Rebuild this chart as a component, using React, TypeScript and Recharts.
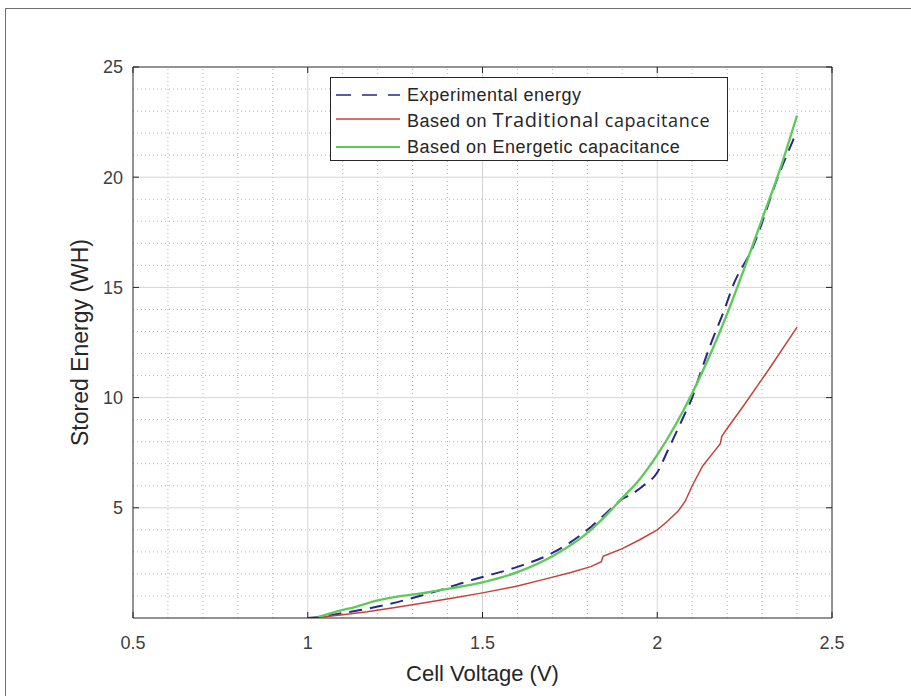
import { LineChart, Line, XAxis, YAxis, ReferenceLine, Legend } from "recharts";

// cell voltage (V) vs stored energy (WH)
const expVoltage = [1.0, 1.03, 1.07, 1.15, 1.23, 1.31, 1.38, 1.44, 1.5, 1.6, 1.7, 1.8, 1.85, 1.9, 1.93, 1.96, 2.0, 2.03, 2.08, 2.1, 2.12, 2.15, 2.19, 2.22, 2.27, 2.35, 2.4];
const expEnergy = [0, 0.03, 0.14, 0.36, 0.62, 0.95, 1.27, 1.58, 1.86, 2.32, 2.95, 4.0, 4.7, 5.4, 5.65, 6.0, 6.6, 7.6, 9.3, 10.0, 10.95, 12.3, 13.9, 15.2, 16.7, 20.2, 22.1];

const tradVoltage = [1.04, 1.1, 1.17, 1.25, 1.33, 1.42, 1.5, 1.6, 1.67, 1.75, 1.81, 1.84, 1.845, 1.9, 1.95, 2.0, 2.03, 2.06, 2.08, 2.1, 2.13, 2.15, 2.18, 2.185, 2.2, 2.25, 2.32, 2.4];
const tradEnergy = [0.05, 0.15, 0.28, 0.48, 0.68, 0.92, 1.14, 1.45, 1.73, 2.05, 2.33, 2.55, 2.8, 3.15, 3.55, 4.0, 4.4, 4.85, 5.3, 6.0, 6.9, 7.3, 7.9, 8.25, 8.6, 9.7, 11.3, 13.2];

const enerVoltage = [1.03, 1.08, 1.14, 1.2, 1.26, 1.3, 1.35, 1.4, 1.5, 1.6, 1.7, 1.8, 1.85, 1.9, 1.95, 2.0, 2.05, 2.1, 2.15, 2.2, 2.25, 2.3, 2.35, 2.4];
const enerEnergy = [0.05, 0.28, 0.52, 0.8, 0.98, 1.06, 1.18, 1.32, 1.62, 2.08, 2.8, 3.86, 4.6, 5.45, 6.3, 7.4, 8.7, 10.2, 11.9, 13.8, 15.9, 18.1, 20.3, 22.8];

const seriesNames = [
  "Experimental energy",
  "Based on Traditional capacitance",
  "Based on Energetic capacitance",
];
const seriesColors = ["#26268c", "#c8403a", "#5fc95a"];

const xTicks = [0.5, 1, 1.5, 2, 2.5];
const yTicks = [5, 10, 15, 20, 25];
const xMajorGrid = [1, 1.5, 2];
const yMajorGrid = [5, 10, 15, 20];
const xMinorGrid = [0.6, 0.7, 0.8, 0.9, 1.1, 1.2, 1.3, 1.4, 1.6, 1.7, 1.8, 1.9, 2.1, 2.2, 2.3, 2.4];
const yMinorGrid = [1, 2, 3, 4, 6, 7, 8, 9, 11, 12, 13, 14, 16, 17, 18, 19, 21, 22, 23, 24];

const SANS = "'Liberation Sans', Arial, sans-serif";
const AXIS = "#262626";

const toPoints = (v: number[], e: number[]) => v.map((x, i) => ({ v: x, e: e[i] }));

const expData = toPoints(expVoltage, expEnergy);
const tradData = toPoints(tradVoltage, tradEnergy);
const enerData = toPoints(enerVoltage, enerEnergy);

const tickStyle = { fill: "#404040", fontSize: 18, fontFamily: SANS };
const noTick = () => <g />;

const rowTops = [5, 29, 57];

function legendLabel(name: string) {
  if (name.includes("Traditional")) {
    return (
      <>
        Based on{" "}
        <span style={{ fontFamily: "'Open Sans', sans-serif", fontSize: 20, letterSpacing: 0.6 }}>
          Traditional
        </span>
        <span style={{ fontFamily: "'Open Sans', sans-serif", fontSize: 18, letterSpacing: 0.6 }}>
          {" "}capacitance
        </span>
      </>
    );
  }
  return name;
}

function renderLegend() {
  return (
    <div
      style={{
        position: "relative",
        width: 396,
        height: 82,
        border: `1px solid ${AXIS}`,
        background: "#fff",
        fontFamily: SANS,
        fontSize: 18,
        letterSpacing: 0.5,
        color: AXIS,
      }}
    >
      {seriesNames.map((name, i) => (
        <div
          key={name}
          style={{
            position: "absolute",
            left: 4,
            top: rowTops[i],
            height: 24,
            display: "flex",
            alignItems: "center",
            whiteSpace: "nowrap",
          }}
        >
          <svg width={66} height={24}>
            <line
              x1={1}
              y1={12}
              x2={65}
              y2={12}
              stroke={seriesColors[i]}
              strokeWidth={i === 2 ? 2 : 1.6}
              strokeDasharray={i === 0 ? "15 11" : undefined}
            />
          </svg>
          <span style={{ marginLeft: 6 }}>{legendLabel(name)}</span>
        </div>
      ))}
    </div>
  );
}

export default function App() {
  return (
    <div
      style={{
        position: "absolute",
        left: 0,
        top: 0,
        width: 911,
        height: 696,
        overflow: "hidden",
        background: "#fff",
      }}
    >
      <div
        style={{
          position: "absolute",
          left: 5,
          top: 8,
          width: 1000,
          height: 1000,
          borderTop: "1px solid #707070",
          borderLeft: "1px solid #707070",
        }}
      />
      <LineChart
        width={911}
        height={696}
        margin={{ top: 66, right: 78, bottom: 38, left: 27 }}
        style={{ position: "absolute", left: 0, top: 0 }}
      >
        <XAxis
          xAxisId={0}
          dataKey="v"
          type="number"
          domain={[0.5, 2.5]}
          ticks={xTicks}
          allowDataOverflow
          height={40}
          tickSize={-6}
          tickMargin={24}
          tick={tickStyle}
          axisLine={{ stroke: AXIS }}
          tickLine={{ stroke: AXIS }}
          label={{
            value: "Cell Voltage (V)",
            position: "bottom",
            offset: 7,
            fill: AXIS,
            fontSize: 22,
            fontFamily: SANS,
          }}
        />
        <XAxis
          xAxisId="top"
          orientation="top"
          dataKey="v"
          type="number"
          domain={[0.5, 2.5]}
          ticks={xTicks}
          allowDataOverflow
          height={1}
          tickSize={-6}
          tick={noTick}
          axisLine={{ stroke: AXIS }}
          tickLine={{ stroke: AXIS }}
        />
        <YAxis
          yAxisId={0}
          type="number"
          domain={[0, 25]}
          ticks={yTicks}
          allowDataOverflow
          width={106}
          tickSize={-6}
          tickMargin={16}
          tick={tickStyle}
          axisLine={{ stroke: AXIS }}
          tickLine={{ stroke: AXIS }}
          label={{
            value: "Stored Energy (WH)",
            angle: -90,
            position: "center",
            fill: AXIS,
            fontSize: 23,
            fontFamily: SANS,
          }}
        />
        <YAxis
          yAxisId="right"
          orientation="right"
          type="number"
          domain={[0, 25]}
          ticks={yTicks}
          allowDataOverflow
          width={1}
          tickSize={-6}
          tick={noTick}
          axisLine={{ stroke: AXIS }}
          tickLine={{ stroke: AXIS }}
        />

        {xMinorGrid.map((v) => (
          <ReferenceLine key={`xm${v}`} x={v} stroke="#b4b4b4" strokeDasharray="1 3" />
        ))}
        {yMinorGrid.map((v) => (
          <ReferenceLine key={`ym${v}`} y={v} stroke="#b4b4b4" strokeDasharray="1 3" />
        ))}
        {xMajorGrid.map((v) => (
          <ReferenceLine key={`xM${v}`} x={v} stroke="#d4d4d4" />
        ))}
        {yMajorGrid.map((v) => (
          <ReferenceLine key={`yM${v}`} y={v} stroke="#d4d4d4" />
        ))}

        <Line
          data={expData}
          dataKey="e"
          name={seriesNames[0]}
          type="monotone"
          stroke={seriesColors[0]}
          strokeWidth={2}
          strokeDasharray="13 8"
          dot={false}
          activeDot={false}
          isAnimationActive={false}
        />
        <Line
          data={tradData}
          dataKey="e"
          name={seriesNames[1]}
          type="linear"
          stroke={seriesColors[1]}
          strokeWidth={1.5}
          dot={false}
          activeDot={false}
          isAnimationActive={false}
        />
        <Line
          data={enerData}
          dataKey="e"
          name={seriesNames[2]}
          type="monotone"
          stroke={seriesColors[2]}
          strokeWidth={2.4}
          dot={false}
          activeDot={false}
          isAnimationActive={false}
        />

        <Legend
          layout="vertical"
          align="center"
          verticalAlign="middle"
          content={renderLegend}
          wrapperStyle={{ left: 330, top: 77, width: 398, height: 84 }}
        />
      </LineChart>
    </div>
  );
}
